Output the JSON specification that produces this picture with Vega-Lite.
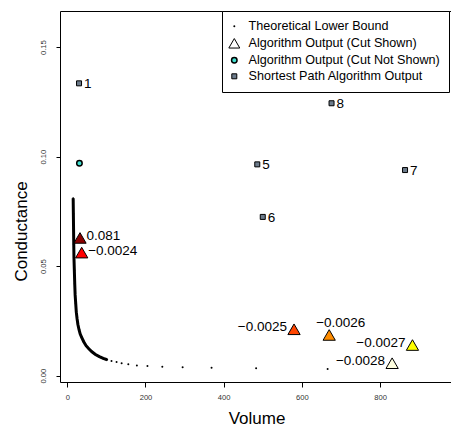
{
  "$schema": "https://vega.github.io/schema/vega-lite/v6.json",
  "width": 391,
  "height": 371,
  "autosize": {"type": "none"},
  "padding": {"left": 60, "top": 11, "right": 0, "bottom": 46},
  "background": "white",
  "config": {
    "view": {"stroke": "black", "strokeWidth": 1},
    "font": "Liberation Sans",
    "axis": {"grid": false, "domain": false, "tickColor": "black", "tickWidth": 1, "labelFont": "Liberation Sans", "titleFont": "Liberation Sans", "titleFontWeight": "normal", "labelColor": "#333333", "titleColor": "black"},
    "text": {"font": "Liberation Sans", "fontSize": 13.5, "color": "black"}
  },
  "data": {
    "values": [
      {"series": "Theoretical Lower Bound", "vol": 15, "cond": 0.081},
      {"series": "Theoretical Lower Bound", "vol": 15.5, "cond": 0.074},
      {"series": "Theoretical Lower Bound", "vol": 16, "cond": 0.067},
      {"series": "Theoretical Lower Bound", "vol": 16.5, "cond": 0.06},
      {"series": "Theoretical Lower Bound", "vol": 17, "cond": 0.054},
      {"series": "Theoretical Lower Bound", "vol": 18, "cond": 0.048},
      {"series": "Theoretical Lower Bound", "vol": 19, "cond": 0.042},
      {"series": "Theoretical Lower Bound", "vol": 20, "cond": 0.037},
      {"series": "Theoretical Lower Bound", "vol": 21.5, "cond": 0.033},
      {"series": "Theoretical Lower Bound", "vol": 23, "cond": 0.029},
      {"series": "Theoretical Lower Bound", "vol": 25, "cond": 0.026},
      {"series": "Theoretical Lower Bound", "vol": 27, "cond": 0.0235},
      {"series": "Theoretical Lower Bound", "vol": 30, "cond": 0.021},
      {"series": "Theoretical Lower Bound", "vol": 33, "cond": 0.019},
      {"series": "Theoretical Lower Bound", "vol": 37, "cond": 0.0174},
      {"series": "Theoretical Lower Bound", "vol": 42, "cond": 0.0155},
      {"series": "Theoretical Lower Bound", "vol": 48, "cond": 0.0137},
      {"series": "Theoretical Lower Bound", "vol": 55, "cond": 0.0123},
      {"series": "Theoretical Lower Bound", "vol": 63, "cond": 0.0109},
      {"series": "Theoretical Lower Bound", "vol": 72, "cond": 0.0097},
      {"series": "Theoretical Lower Bound", "vol": 82, "cond": 0.0087},
      {"series": "Theoretical Lower Bound", "vol": 92, "cond": 0.0079},
      {"series": "Theoretical Lower Bound", "vol": 102, "cond": 0.0073},
      {"series": "Theoretical Lower Bound", "vol": 113, "cond": 0.0067},
      {"series": "Theoretical Lower Bound", "vol": 126, "cond": 0.0063},
      {"series": "Theoretical Lower Bound", "vol": 139, "cond": 0.0057},
      {"series": "Theoretical Lower Bound", "vol": 156, "cond": 0.0052},
      {"series": "Theoretical Lower Bound", "vol": 178, "cond": 0.0047},
      {"series": "Theoretical Lower Bound", "vol": 205, "cond": 0.0044},
      {"series": "Theoretical Lower Bound", "vol": 243, "cond": 0.0041},
      {"series": "Theoretical Lower Bound", "vol": 295, "cond": 0.0038},
      {"series": "Theoretical Lower Bound", "vol": 369, "cond": 0.0036},
      {"series": "Theoretical Lower Bound", "vol": 483, "cond": 0.0034},
      {"series": "Theoretical Lower Bound", "vol": 666, "cond": 0.003},
      {"series": "Algorithm Output (Cut Shown)", "vol": 32.5, "cond": 0.0629, "label": "0.081"},
      {"series": "Algorithm Output (Cut Shown)", "vol": 36.8, "cond": 0.0562, "label": "−0.0024"},
      {"series": "Algorithm Output (Cut Shown)", "vol": 580, "cond": 0.0212, "label": "−0.0025"},
      {"series": "Algorithm Output (Cut Shown)", "vol": 670, "cond": 0.0186, "label": "−0.0026"},
      {"series": "Algorithm Output (Cut Shown)", "vol": 883, "cond": 0.014, "label": "−0.0027"},
      {"series": "Algorithm Output (Cut Shown)", "vol": 831, "cond": 0.0057, "label": "−0.0028"},
      {"series": "Algorithm Output (Cut Not Shown)", "vol": 31, "cond": 0.097},
      {"series": "Shortest Path Algorithm Output", "vol": 30, "cond": 0.1335, "label": "1"},
      {"series": "Shortest Path Algorithm Output", "vol": 486, "cond": 0.0965, "label": "5"},
      {"series": "Shortest Path Algorithm Output", "vol": 500, "cond": 0.0725, "label": "6"},
      {"series": "Shortest Path Algorithm Output", "vol": 864, "cond": 0.0939, "label": "7"},
      {"series": "Shortest Path Algorithm Output", "vol": 676, "cond": 0.1244, "label": "8"}
    ]
  },
  "encoding": {
    "x": {"field": "vol", "type": "quantitative", "scale": {"domain": [-18.7, 981.6], "nice": false, "zero": false},
      "axis": {"values": [0, 200, 400, 600, 800], "title": "Volume", "titleFontSize": 17, "labelFontSize": 7.6, "tickSize": 5, "labelPadding": 12.5, "labelBaseline": "alphabetic", "labelFlush": false, "titleX": 196.5, "titleY": 41, "titleBaseline": "alphabetic", "titleAlign": "center"}},
    "y": {"field": "cond", "type": "quantitative", "scale": {"domain": [-0.00288, 0.16653], "nice": false, "zero": false},
      "axis": {"values": [0, 0.05, 0.1, 0.15], "format": ".2f", "title": "Conductance", "titleFontSize": 17, "labelFontSize": 7.6, "labelAngle": -90, "labelAlign": "center", "labelBaseline": "alphabetic", "tickSize": 4, "labelPadding": 10.5, "labelFlush": false, "titleX": -33.3, "titleY": 220, "titleAngle": -90, "titleAlign": "center", "titleBaseline": "alphabetic"}}
  },
  "layer": [
    {
      "transform": [{"filter": "datum.series === 'Theoretical Lower Bound' && datum.vol <= 102"}],
      "mark": {"type": "line", "color": "black", "strokeWidth": 3}
    },
    {
      "transform": [{"filter": "datum.series === 'Theoretical Lower Bound'"}],
      "mark": {"type": "point", "filled": true, "fill": "black", "size": 4, "strokeWidth": 0, "opacity": 1},
      "encoding": {
        "shape": {"field": "series", "type": "nominal",
          "scale": {"domain": ["Theoretical Lower Bound", "Algorithm Output (Cut Shown)", "Algorithm Output (Cut Not Shown)", "Shortest Path Algorithm Output"], "range": ["circle", "triangle-up", "circle", "square"]},
          "legend": {
            "orient": "none", "legendX": 162, "legendY": 0, "title": null,
            "strokeColor": "black", "fillColor": "white", "padding": 9, "cornerRadius": 0,
            "labelFont": "Liberation Sans", "labelFontSize": 12.6, "labelColor": "black", "labelLimit": 0, "labelOffset": 8,
            "rowPadding": 3, "symbolSize": 4, "symbolOffset": -3,
            "encoding": {"symbols": {
              "fill": {"value": {"expr": "datum.value === 'Algorithm Output (Cut Shown)' ? 'white' : datum.value === 'Algorithm Output (Cut Not Shown)' ? '#40E0D0' : datum.value === 'Shortest Path Algorithm Output' ? '#6C7B8B' : 'black'"}},
              "size": {"value": {"expr": "datum.value === 'Algorithm Output (Cut Shown)' ? 120 : datum.value === 'Algorithm Output (Cut Not Shown)' ? 30 : datum.value === 'Shortest Path Algorithm Output' ? 25 : 4"}},
              "strokeWidth": {"value": {"expr": "datum.value === 'Theoretical Lower Bound' ? 0 : datum.value === 'Algorithm Output (Cut Not Shown)' ? 1.5 : 1"}},
              "stroke": {"value": "black"},
              "opacity": {"value": 1},
              "fillOpacity": {"value": 1}
            }}
          }
        }
      }
    },
    {
      "transform": [{"filter": "datum.series === 'Algorithm Output (Cut Shown)'"}],
      "mark": {"type": "point", "filled": true, "size": 150, "stroke": "black", "strokeWidth": 1, "opacity": 1},
      "encoding": {
        "shape": {"field": "series", "type": "nominal", "legend": null},
        "fill": {"field": "label", "type": "nominal",
          "scale": {"domain": ["0.081", "−0.0024", "−0.0025", "−0.0026", "−0.0027", "−0.0028"], "range": ["#8B0000", "#FF0000", "#FF4500", "#FF8C00", "#FFFF00", "#FFFFE0"]},
          "legend": null}
      }
    },
    {
      "transform": [{"filter": "datum.series === 'Algorithm Output (Cut Not Shown)'"}],
      "mark": {"type": "point", "filled": true, "fill": "#40E0D0", "size": 30, "stroke": "black", "strokeWidth": 1.5, "opacity": 1},
      "encoding": {"shape": {"field": "series", "type": "nominal", "legend": null}}
    },
    {
      "transform": [{"filter": "datum.series === 'Shortest Path Algorithm Output'"}],
      "mark": {"type": "point", "filled": true, "fill": "#6C7B8B", "size": 25, "stroke": "black", "strokeWidth": 1, "opacity": 1},
      "encoding": {"shape": {"field": "series", "type": "nominal", "legend": null}}
    },
    {
      "transform": [{"filter": "datum.series === 'Shortest Path Algorithm Output'"}],
      "mark": {"type": "text", "align": "left", "baseline": "middle", "dx": 5, "dy": 1},
      "encoding": {"text": {"field": "label"}}
    },
    {
      "transform": [{"filter": "datum.series === 'Algorithm Output (Cut Shown)' && datum.vol < 100"}],
      "mark": {"type": "text", "align": "left", "baseline": "middle", "dx": 6.5, "dy": -2},
      "encoding": {"text": {"field": "label"}}
    },
    {
      "transform": [{"filter": "datum.series === 'Algorithm Output (Cut Shown)' && datum.vol > 100 && datum.label !== '−0.0026'"}],
      "mark": {"type": "text", "align": "right", "baseline": "middle", "dx": -7, "dy": -2},
      "encoding": {"text": {"field": "label"}}
    },
    {
      "transform": [{"filter": "datum.label === '−0.0026'"}],
      "mark": {"type": "text", "align": "left", "baseline": "middle", "dx": -13, "dy": -12},
      "encoding": {"text": {"field": "label"}}
    }
  ]
}
